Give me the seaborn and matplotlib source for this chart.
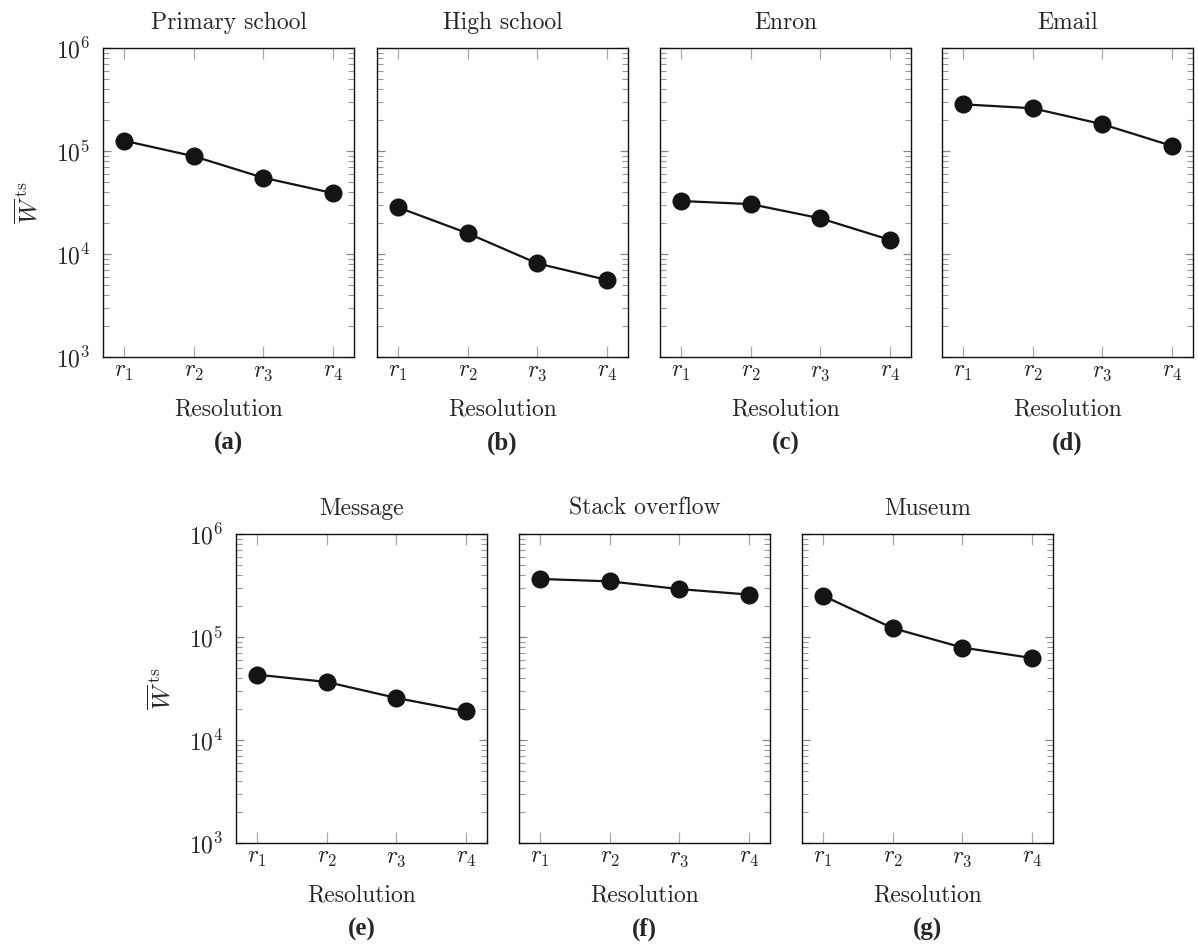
import numpy as np
import pandas as pd
import matplotlib
matplotlib.use('Agg')
import matplotlib.pyplot as plt
import matplotlib.ticker as mticker
import seaborn as sns

# Values (mean W^ts per resolution)
resolutions = ['$r_1$', '$r_2$', '$r_3$', '$r_4$']
titles = ['Primary school', 'High school', 'Enron', 'Email',
          'Message', 'Stack overflow', 'Museum']
letters = ['(a)', '(b)', '(c)', '(d)', '(e)', '(f)', '(g)']
primary_school = [1.26e5, 8.9e4, 5.5e4, 3.9e4]
high_school = [2.84e4, 1.59e4, 8.1e3, 5.6e3]
enron = [3.27e4, 3.05e4, 2.22e4, 1.37e4]
email = [2.84e5, 2.6e5, 1.82e5, 1.12e5]
message = [4.31e4, 3.66e4, 2.56e4, 1.9e4]
stack_overflow = [3.66e5, 3.47e5, 2.92e5, 2.58e5]
museum = [2.52e5, 1.22e5, 7.9e4, 6.25e4]
series = [primary_school, high_school, enron, email,
          message, stack_overflow, museum]

sns.set_style('ticks')
plt.rcParams['font.family'] = ['cmr10', 'DejaVu Serif']
plt.rcParams['mathtext.fontset'] = 'cm'
plt.rcParams['axes.unicode_minus'] = False
plt.rcParams['axes.formatter.use_mathtext'] = True

W, H = 1198, 947
fig = plt.figure(figsize=(W / 100, H / 100), dpi=100)

# panel boxes in pixels: left, top
boxes = [(103, 48), (377, 48), (660, 48), (942, 48),
         (236, 534), (519, 534), (802, 534)]
pw, ph = 251, 309
fs = 17

for i, (left, top) in enumerate(boxes):
    ax = fig.add_axes([left / W, 1 - (top + ph) / H, pw / W, ph / H])
    df = pd.DataFrame({'x': np.arange(4), 'y': series[i]})
    sns.lineplot(data=df, x='x', y='y', ax=ax, color='#141414', lw=1.6,
                 marker='o', markersize=13, markeredgewidth=0)
    ax.set_yscale('log')
    ax.set_ylim(1e3, 1e6)
    ax.set_xlim(-0.3, 3.3)
    ax.set_xticks(range(4))
    ax.set_xticklabels(resolutions)
    ax.yaxis.set_major_locator(mticker.LogLocator(base=10, numticks=10))
    ax.yaxis.set_minor_locator(mticker.LogLocator(base=10, subs=np.arange(2, 10), numticks=20))
    ax.yaxis.set_minor_formatter(mticker.NullFormatter())
    ax.tick_params(axis='x', which='major', direction='in', top=True, bottom=True,
                   length=8, width=0.9, color='#aaaaaa', labelsize=fs, pad=3)
    ax.tick_params(axis='y', which='major', direction='in', left=True, right=True,
                   length=6, width=0.9, color='#888888', labelsize=fs, pad=9)
    ax.tick_params(axis='y', which='minor', direction='in', left=True, right=True,
                   length=4, width=0.8, color='#999999')
    for sp in ax.spines.values():
        sp.set_color('#111111')
        sp.set_linewidth(1.0)
    if i in (0, 4):
        ax.set_ylabel(r'$\overline{W}^{\,\mathrm{ts}}$', fontsize=fs + 1, labelpad=10)
    else:
        ax.set_ylabel('')
        ax.tick_params(axis='y', labelleft=False)
    ax.set_xlabel('Resolution', fontsize=fs, labelpad=11)
    ax.set_title(titles[i], fontsize=fs, pad=14)
    ax.text(0.5, -86 / ph, letters[i], transform=ax.transAxes, ha='center',
            va='center', fontsize=fs + 1, family='Liberation Serif', weight='bold')

fig.savefig('out.png', dpi=100)
